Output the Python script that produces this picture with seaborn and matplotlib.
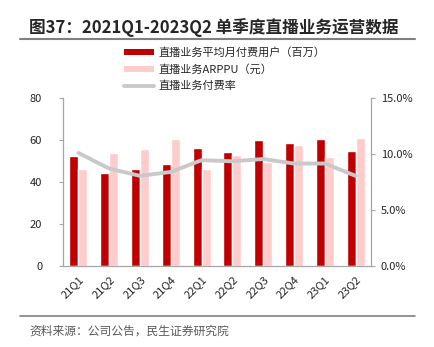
import numpy as np
import pandas as pd
import matplotlib
matplotlib.use("Agg")
import matplotlib.pyplot as plt
from matplotlib.patches import Patch
from matplotlib.lines import Line2D
from matplotlib.ticker import FuncFormatter, MultipleLocator, FixedLocator
import seaborn as sns

quarters = ["21Q1", "21Q2", "21Q3", "21Q4", "22Q1", "22Q2", "22Q3", "22Q4", "23Q1", "23Q2"]
paying_users = [52.3, 44.5, 46.1, 48.5, 56.3, 54.4, 59.8, 58.6, 60.3, 54.7]
arppu = [46.1, 53.9, 55.8, 60.6, 46.3, 52.8, 49.3, 57.4, 51.7, 61.1]
pay_rate = [10.1, 8.7, 8.05, 8.4, 9.45, 9.35, 9.55, 9.15, 9.15, 8.05]

name_users = "直播业务平均月付费用户（百万）"
name_arppu = "直播业务ARPPU（元）"
name_rate = "直播业务付费率"

RED = "#C00000"
PINK = "#FFCCCC"
GRAY_LINE = "#C9C9C9"
AXIS = "#A6A6A6"
TEXT = "#262626"

sns.set_style("white")
plt.rcParams["font.family"] = ["Noto Sans CJK SC", "DejaVu Sans"]
plt.rcParams["axes.unicode_minus"] = False

df = pd.DataFrame({
    "quarter": quarters * 2,
    "value": paying_users + arppu,
    "series": [name_users] * len(quarters) + [name_arppu] * len(quarters),
})

fig = plt.figure(figsize=(4.35, 3.47), dpi=100)
ax = fig.add_axes([63 / 435, 1 - 266 / 347, (371 - 63) / 435, (266 - 98) / 347])

sns.barplot(data=df, x="quarter", y="value", hue="series", order=quarters,
            hue_order=[name_users, name_arppu], palette=[RED, PINK],
            width=0.58, gap=0, ax=ax, legend=False, saturation=1)

ax.set_ylim(0, 80)
ax.set_xlim(-0.5, len(quarters) - 0.5)
ax.yaxis.set_major_locator(MultipleLocator(20))
ax.set_xlabel("")
ax.set_ylabel("")

ax2 = ax.twinx()
sns.lineplot(x=np.arange(len(quarters)), y=pay_rate, ax=ax2, color=GRAY_LINE,
             linewidth=2.8, solid_joinstyle="round", solid_capstyle="round")
ax2.set_ylim(0, 15)
ax2.yaxis.set_major_locator(MultipleLocator(5))
ax2.yaxis.set_major_formatter(FuncFormatter(lambda v, _: f"{v:.1f}%"))
ax2.set_xlim(-0.5, len(quarters) - 0.5)

for a in (ax, ax2):
    a.spines["top"].set_visible(False)
    for s in ("left", "right", "bottom"):
        a.spines[s].set_color(AXIS)
        a.spines[s].set_linewidth(0.9)

ax.spines["right"].set_visible(False)
ax2.spines["left"].set_visible(False)
ax2.spines["bottom"].set_visible(False)

ax.tick_params(axis="y", direction="out", length=3, width=0.8, color=AXIS,
               labelsize=8, labelcolor=TEXT, pad=12)
ax2.tick_params(axis="y", direction="out", length=3, width=0.8, color=AXIS,
                labelsize=8, labelcolor=TEXT, pad=4)

# category labels at centres, tick marks at group boundaries
ax.set_xticks(np.arange(len(quarters)))
ax.set_xticklabels(quarters, rotation=45, ha="right", rotation_mode="anchor")
ax.tick_params(axis="x", which="major", length=0, labelsize=8, labelcolor=TEXT, pad=6)
ax.xaxis.set_minor_locator(FixedLocator(np.arange(-0.5, len(quarters), 1.0)))
ax.tick_params(axis="x", which="minor", direction="in", length=3, width=0.8, color=AXIS)

# title with rule beneath
fig.text(29 / 435, 1 - 28 / 347, "图37：2021Q1-2023Q2 单季度直播业务运营数据",
         fontsize=12, fontweight="bold", color=TEXT, va="center", ha="left")
fig.add_artist(Line2D([20 / 435, 415 / 435], [1 - 39 / 347, 1 - 39 / 347],
                      color="#808080", linewidth=1.5))

# source note with rule above
fig.add_artist(Line2D([20 / 435, 415 / 435], [1 - 316 / 347, 1 - 316 / 347],
                      color="#808080", linewidth=1.2))
fig.text(29 / 435, 1 - 331 / 347, "资料来源：公司公告，民生证券研究院",
         fontsize=8.5, color="#595959", va="center", ha="left")

handles = [
    Patch(facecolor=RED, edgecolor="none"),
    Patch(facecolor=PINK, edgecolor="none"),
    Line2D([0], [0], color=GRAY_LINE, linewidth=2.8, solid_capstyle="round"),
]
fig.legend(handles, [name_users, name_arppu, name_rate], loc="upper left",
           bbox_to_anchor=(122 / 435, 1 - 45 / 347), frameon=False, fontsize=8,
           handlelength=2.7, handleheight=0.5, handletextpad=0.4,
           labelspacing=0.55, borderaxespad=0, borderpad=0.2, labelcolor=TEXT)

fig.savefig("out.png", dpi=100)
